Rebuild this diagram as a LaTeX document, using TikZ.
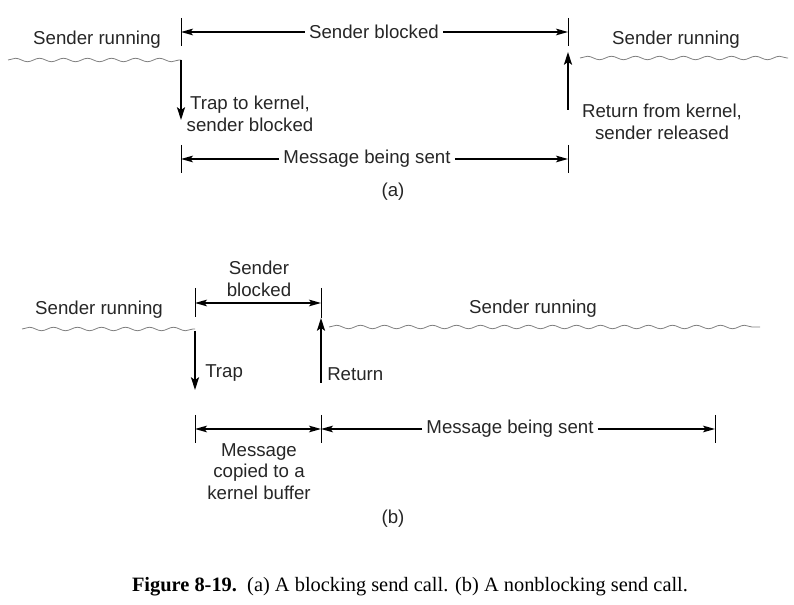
\documentclass[tikz,border=0pt]{standalone}
\usepackage{fontspec}
\setmainfont{Liberation Serif}
\newfontfamily\labelfont{Liberation Sans}
\usetikzlibrary{arrows.meta,decorations.pathmorphing}

\tikzset{
  lbl/.style={font=\labelfont\fontsize{14}{16.3}\selectfont, text=black!85, inner sep=3pt, align=center},
  arr/.style={-{Stealth[length=9.5pt,width=6pt,inset=2pt]}, line width=1.5pt},
  dim/.style={-{Stealth[length=9pt,width=5pt,inset=2pt]}, line width=1.1pt},
  dimboth/.style={{Stealth[length=9pt,width=5pt,inset=2pt]}-{Stealth[length=9pt,width=5pt,inset=2pt]}, line width=1.1pt},
  tickline/.style={line width=0.7pt},
  wave/.style={black!50, line width=0.6pt, decorate, decoration={snake, segment length=18pt, amplitude=1.3pt}},
}

\begin{document}
\begin{tikzpicture}[x=0.75pt, y=-0.75pt]
	\useasboundingbox (0,0) rectangle (794,605);

	% (a) blocking send
	\coordinate (a1t) at (181,18);
	\coordinate (a1b) at (181,46);
	\coordinate (a2t) at (568,18);
	\coordinate (a2b) at (568,46);
	\coordinate (a1) at (181,32);
	\coordinate (a2) at (568,32);
	\draw[tickline] (a1t) -- (a1b);
	\draw[tickline] (a2t) -- (a2b);

	\node[lbl] (runA) at (97,40) {Sender running};
	\node[lbl] (blkA) at (374,32) {Sender blocked};
	\draw[dim] (blkA) -- (a1);
	\draw[dim] (blkA) -- (a2);

	\coordinate (wA1) at (8,60);
	\coordinate (wA2) at (181,60);
	\coordinate (wA3) at (580,58);
	\coordinate (wA4) at (788,58);
	\draw[wave] (wA1) -- (wA2);
	\draw[wave] (wA3) -- (wA4);
	\node[lbl] (runA2) at (676,40) {Sender running};

	\coordinate (dA) at (181,120);
	\draw[arr] (wA2) -- (dA);
	\node[lbl] (trapA) at (250,114) {Trap to kernel,\\sender blocked};

	\coordinate (uA1) at (568,110);
	\coordinate (uA2) at (568,52);
	\draw[arr] (uA1) -- (uA2);
	\node[lbl] (retA) at (662,121.5) {Return from kernel,\\sender released};

	\coordinate (a3t) at (181,145);
	\coordinate (a3b) at (181,173);
	\coordinate (a4t) at (568,145);
	\coordinate (a4b) at (568,173);
	\coordinate (a3) at (181,159);
	\coordinate (a4) at (568,159);
	\draw[tickline] (a3t) -- (a3b);
	\draw[tickline] (a4t) -- (a4b);
	\node[lbl] (msgA) at (367,159) {Message being sent};
	\draw[dim] (msgA) -- (a3);
	\draw[dim] (msgA) -- (a4);

	\node[lbl] (capA) at (393,192) {(a)};

	% (b) nonblocking send
	\coordinate (b1t) at (195,288);
	\coordinate (b1b) at (195,317);
	\coordinate (b2t) at (321,288);
	\coordinate (b2b) at (321,318);
	\coordinate (b1) at (195,303);
	\coordinate (b2) at (321,303);
	\draw[tickline] (b1t) -- (b1b);
	\draw[tickline] (b2t) -- (b2b);
	\draw[dimboth] (b1) -- (b2);
	\node[lbl] (blkB) at (259,279) {Sender\\blocked};

	\node[lbl] (runB) at (99,310) {Sender running};
	\node[lbl] (runB2) at (533,309) {Sender running};
	\coordinate (wB1) at (22,329);
	\coordinate (wB2) at (195,329);
	\coordinate (wB3) at (329,327);
	\coordinate (wB4) at (760,327);
	\draw[wave] (wB1) -- (wB2);
	\draw[wave] (wB3) -- (wB4);

	\coordinate (dB1) at (195,331);
	\coordinate (dB2) at (195,390);
	\draw[arr] (dB1) -- (dB2);
	\node[lbl, anchor=west] (trapB) at (201,373) {Trap};

	\coordinate (uB1) at (321,383);
	\coordinate (uB2) at (321,318);
	\draw[arr] (uB1) -- (uB2);
	\node[lbl, anchor=west] (retB) at (323,374) {Return};

	\coordinate (b3t) at (195,415);
	\coordinate (b3b) at (195,443);
	\coordinate (b4t) at (321,415);
	\coordinate (b4b) at (321,443);
	\coordinate (b5t) at (715,415);
	\coordinate (b5b) at (715,443);
	\coordinate (b3) at (195,429);
	\coordinate (b4) at (321,429);
	\coordinate (b5) at (715,429);
	\draw[tickline] (b3t) -- (b3b);
	\draw[tickline] (b4t) -- (b4b);
	\draw[tickline] (b5t) -- (b5b);
	\draw[dimboth] (b3) -- (b4);
	\node[lbl] (msgB) at (510,429) {Message being sent};
	\draw[dim] (msgB) -- (b4);
	\draw[dim] (msgB) -- (b5);
	\node[lbl] (copyB) at (259,471.5) {Message\\copied to a\\kernel buffer};

	\node[lbl] (capB) at (393,519) {(b)};

	\node[font=\fontsize{15.3}{18}\selectfont] (fig) at (410,587)
		{\textbf{Figure 8-19.}\ \ (a) A blocking send call. (b) A nonblocking send call.};
\end{tikzpicture}
\end{document}
